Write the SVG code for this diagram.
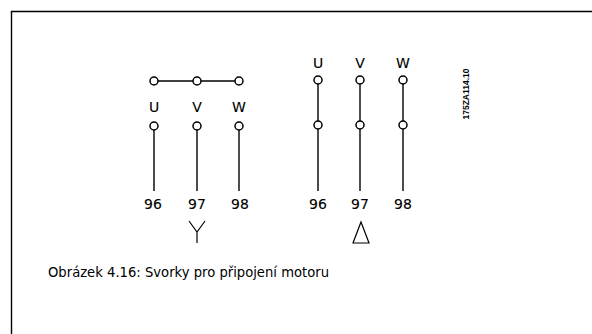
<svg xmlns="http://www.w3.org/2000/svg" width="592" height="334" viewBox="0 0 592 334">
<style>
.w{stroke:#000;stroke-width:1.4;fill:none}
.t{fill:#fff;stroke:#000;stroke-width:1.5}
.lb{font-family:"DejaVu Sans",Verdana,sans-serif;font-size:14px;fill:#000;text-anchor:middle;stroke:#000;stroke-width:0.12}
.cap{font-family:"DejaVu Sans","Noto Sans",sans-serif;font-size:13.5px;fill:#000}
.id{font-family:"Liberation Sans",Arial,sans-serif;font-size:8.5px;font-weight:bold;fill:#000;text-anchor:middle}
.sym{stroke:#000;stroke-width:1.2;fill:none}
</style>
<rect width="592" height="334" fill="#fff"/>
<path d="M11.5 334V11.5H592" stroke="#000" stroke-width="1.4" fill="none"/>
<g id="connectors">
<line class="w" x1="154" y1="81" x2="239" y2="81"/>
<line class="w" x1="154" y1="126" x2="154" y2="191"/>
<line class="w" x1="197" y1="126" x2="197" y2="191"/>
<line class="w" x1="239" y1="126" x2="239" y2="191"/>
<line class="w" x1="318" y1="80" x2="318" y2="191"/>
<line class="w" x1="360" y1="80" x2="360" y2="191"/>
<line class="w" x1="403" y1="80" x2="403" y2="191"/>
</g>
<g id="star">
<circle class="t" cx="154" cy="81" r="4"/>
<circle class="t" cx="197" cy="81" r="4"/>
<circle class="t" cx="239" cy="81" r="4"/>
<text class="lb" x="154" y="112">U</text>
<text class="lb" x="197" y="112">V</text>
<text class="lb" x="239" y="112">W</text>
<circle class="t" cx="154" cy="126" r="4"/>
<circle class="t" cx="197" cy="126" r="4"/>
<circle class="t" cx="239" cy="126" r="4"/>
<text class="lb" x="153" y="209">96</text>
<text class="lb" x="197" y="209">97</text>
<text class="lb" x="240" y="209">98</text>
<path class="sym" d="M189 221L197 232L205 221M197 232V243"/>
</g>
<g id="delta">
<text class="lb" x="318" y="68">U</text>
<text class="lb" x="360" y="68">V</text>
<text class="lb" x="403" y="68">W</text>
<circle class="t" cx="318" cy="80" r="4"/>
<circle class="t" cx="360" cy="80" r="4"/>
<circle class="t" cx="403" cy="80" r="4"/>
<circle class="t" cx="318" cy="125" r="4"/>
<circle class="t" cx="360" cy="125" r="4"/>
<circle class="t" cx="403" cy="125" r="4"/>
<text class="lb" x="318" y="209">96</text>
<text class="lb" x="360" y="209">97</text>
<text class="lb" x="403" y="209">98</text>
<path class="sym" d="M361 222L369 243H353Z"/>
</g>
<text class="id" transform="translate(469 94) rotate(-90)">175ZA114.10</text>
<text class="cap" x="48" y="277" textLength="281" lengthAdjust="spacingAndGlyphs">Obrázek 4.16: Svorky pro připojení motoru</text>
</svg>
